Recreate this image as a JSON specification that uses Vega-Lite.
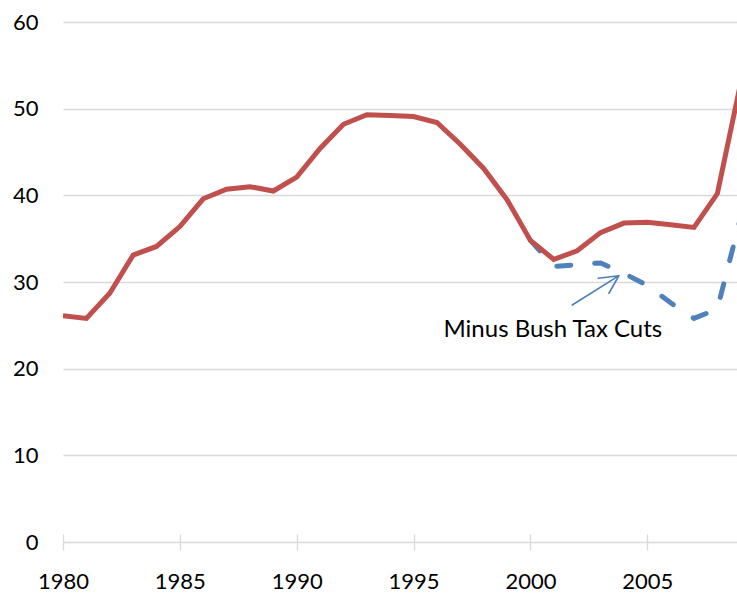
{
  "$schema": "https://vega.github.io/schema/vega-lite/v6.json",
  "width": 674,
  "height": 520,
  "autosize": "none",
  "padding": {"left": 63, "top": 22, "right": 0, "bottom": 51},
  "background": "white",
  "config": {"view": {"stroke": null}, "font": "Lato"},
  "datasets": {
    "debt": [
      {"year": 1980, "value": 26.1}, {"year": 1981, "value": 25.8}, {"year": 1982, "value": 28.7},
      {"year": 1983, "value": 33.1}, {"year": 1984, "value": 34.1}, {"year": 1985, "value": 36.4},
      {"year": 1986, "value": 39.6}, {"year": 1987, "value": 40.7}, {"year": 1988, "value": 41.0},
      {"year": 1989, "value": 40.5}, {"year": 1990, "value": 42.1}, {"year": 1991, "value": 45.4},
      {"year": 1992, "value": 48.2}, {"year": 1993, "value": 49.3}, {"year": 1994, "value": 49.2},
      {"year": 1995, "value": 49.1}, {"year": 1996, "value": 48.4}, {"year": 1997, "value": 45.9},
      {"year": 1998, "value": 43.1}, {"year": 1999, "value": 39.5}, {"year": 2000, "value": 34.8},
      {"year": 2001, "value": 32.6}, {"year": 2002, "value": 33.6}, {"year": 2003, "value": 35.7},
      {"year": 2004, "value": 36.8}, {"year": 2005, "value": 36.9}, {"year": 2006, "value": 36.6},
      {"year": 2007, "value": 36.3}, {"year": 2008, "value": 40.2}, {"year": 2009, "value": 53.0}
    ],
    "minus": [
      {"year": 2000, "value": 34.8}, {"year": 2001, "value": 31.8}, {"year": 2002, "value": 32.0},
      {"year": 2003, "value": 32.2}, {"year": 2004, "value": 31.0}, {"year": 2005, "value": 29.6},
      {"year": 2006, "value": 27.6}, {"year": 2007, "value": 25.8}, {"year": 2008, "value": 26.9},
      {"year": 2009, "value": 37.5}
    ],
    "arrow": [
      {"i": 0, "year": 2001.79, "value": 27.35},
      {"i": 1, "year": 2003.79, "value": 30.73},
      {"i": 2, "year": 2002.90, "value": 30.43},
      {"i": 3, "year": 2003.79, "value": 30.73},
      {"i": 4, "year": 2003.36, "value": 28.70}
    ],
    "label": [
      {"year": 2000.96, "value": 23.62, "text": "Minus Bush Tax Cuts"}
    ]
  },
  "layer": [
    {
      "data": {"name": "minus"},
      "mark": {"type": "line", "color": "#4f81bd", "strokeWidth": 5, "strokeDash": [14, 24], "strokeCap": "round", "clip": true},
      "encoding": {
        "x": {
          "field": "year", "type": "quantitative",
          "scale": {"domain": [1980, 2008.84], "nice": false, "zero": false},
          "axis": {
            "title": null, "values": [1980, 1985, 1990, 1995, 2000, 2005], "format": "d",
            "grid": false, "domain": false, "offset": -8, "tickSize": 16, "tickColor": "#d9d9d9", "tickWidth": 1.3,
            "labelFont": "Lato", "labelFontSize": 22, "labelColor": "#000000", "labelPadding": 21, "labelFlush": false, "labelOverlap": false
          }
        },
        "y": {
          "field": "value", "type": "quantitative",
          "scale": {"domain": [0, 60], "nice": false},
          "axis": {
            "title": null, "values": [0, 10, 20, 30, 40, 50, 60], "grid": true, "gridColor": "#d9d9d9", "gridWidth": 1.3,
            "domain": false, "ticks": false, "labelFont": "Lato", "labelFontSize": 22, "labelColor": "#000000", "labelPadding": 25, "labelFlush": false
          }
        }
      }
    },
    {
      "data": {"name": "debt"},
      "mark": {"type": "line", "color": "#c0504d", "strokeWidth": 5, "clip": true},
      "encoding": {
        "x": {"field": "year", "type": "quantitative"},
        "y": {"field": "value", "type": "quantitative"}
      }
    },
    {
      "data": {"name": "arrow"},
      "mark": {"type": "line", "color": "#4a7ebb", "strokeWidth": 1.6, "strokeJoin": "round", "strokeCap": "round"},
      "encoding": {
        "x": {"field": "year", "type": "quantitative"},
        "y": {"field": "value", "type": "quantitative"},
        "order": {"field": "i", "type": "quantitative"}
      }
    },
    {
      "data": {"name": "label"},
      "mark": {"type": "text", "font": "Lato", "fontSize": 24, "color": "#000000", "align": "center", "baseline": "alphabetic"},
      "encoding": {
        "x": {"field": "year", "type": "quantitative"},
        "y": {"field": "value", "type": "quantitative"},
        "text": {"field": "text"}
      }
    }
  ]
}
